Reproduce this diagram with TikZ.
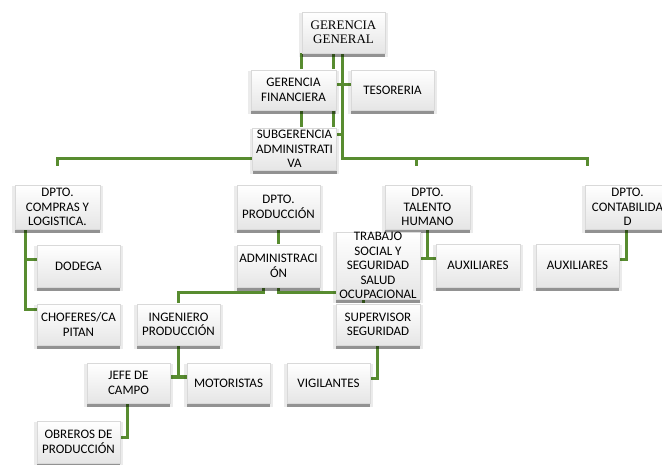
\documentclass[tikz,border=0pt]{standalone}
\usepackage{fontspec}
\setmainfont{Carlito}
\newfontfamily\gserif{Liberation Serif}
\usetikzlibrary{shadows,backgrounds}
\definecolor{lgreen}{RGB}{88,140,48}
\tikzset{
  box/.style={rectangle, draw=black!15, line width=0.4pt, top color=white, bottom color=black!10,
    minimum width=83pt, minimum height=42pt, inner sep=0pt, align=center,
    font=\fontsize{13}{14.5}\selectfont,
    general shadow={shadow xshift=0pt, shadow yshift=-4pt, fill=black, opacity=0.38},
    general shadow={shadow xshift=0pt, shadow yshift=-2pt, shadow scale=1.07, fill=black, opacity=0.08}},
  conn/.style={draw=lgreen, line width=3pt}
}
\begin{document}
\begin{tikzpicture}[x=1pt,y=-1pt]
\useasboundingbox (0,0) rectangle (662,465);
% nodes
\node[box, minimum width=83pt, minimum height=41pt, font=\gserif\fontsize{13}{14.3}\selectfont] (gg) at (343.5,32.5) {GERENCIA\\GENERAL};
\node[box, minimum width=85pt, minimum height=40pt] (gf) at (293.5,90) {GERENCIA\\FINANCIERA};
\node[box, minimum height=40pt] (tes) at (392.5,90) {TESORERIA};
\node[box, minimum width=84pt] (sub) at (294.5,149) {SUBGERENCIA\\ADMINISTRATI\\VA};
\node[box, minimum width=85pt, minimum height=44pt] (com) at (57.5,207) {DPTO.\\COMPRAS Y\\LOGISTICA.};
\node[box, minimum height=44pt] (prod) at (278.5,207) {DPTO.\\PRODUCCIÓN};
\node[box, minimum width=85pt, minimum height=44pt] (tal) at (427.5,207) {DPTO.\\TALENTO\\HUMANO};
\node[box, minimum width=85pt, minimum height=44pt] (cont) at (627.5,207) {DPTO.\\CONTABILIDA\\D};
\node[box] (adm) at (278.5,266) {ADMINISTRACI\\ÓN};
\node[box] (dod) at (78.5,266) {DODEGA};
\node[box, minimum width=84pt, minimum height=43pt] (trab) at (378,265.5) {TRABAJO\\SOCIAL Y\\SEGURIDAD\\SALUD\\OCUPACIONAL};
\node[box, minimum width=84pt, minimum height=43pt] (aux1) at (478,265.5) {AUXILIARES};
\node[box, minimum height=43pt] (aux2) at (577.5,265.5) {AUXILIARES};
\node[box, minimum height=41pt] (chof) at (78.5,324.5) {CHOFERES/CA\\PITAN};
\node[box, minimum height=41pt] (ing) at (178.5,324.5) {INGENIERO\\PRODUCCIÓN};
\node[box, minimum width=84pt, minimum height=41pt] (sup) at (378,324.5) {SUPERVISOR\\SEGURIDAD};
\node[box, minimum height=40pt] (jefe) at (128.5,383) {JEFE DE\\CAMPO};
\node[box, minimum height=40pt] (mot) at (228.5,383) {MOTORISTAS};
\node[box, minimum height=40pt] (vig) at (328.5,383) {VIGILANTES};
\node[box] (obr) at (78.5,442) {OBREROS DE\\PRODUCCIÓN};
% connectors
\begin{scope}[on background layer]
\coordinate (dTal) at (416,166);
\coordinate (dCont) at (587,166);
\coordinate (dCom) at (57,166);
\draw[conn] (gg.south -| 342,0) -- (342,159) -| (dCont);
\draw[conn] (dTal) -- (416,159);
\draw[conn] (gf.east) ++(0,-5) coordinate (gfe) -- (tes.west |- gfe);
\draw[conn] (sub.east) ++(0,-14) coordinate (sube) -- (342,135);
\draw[conn] (gg.south -| 301,0) -- (sub.north -| 301,0);
\draw[conn] (gg.south -| 333,0) -- (sub.north -| 333,0);
\draw[conn] (sub.west |- 0,159) -- (57,159) -- (dCom);
\draw[conn] (com.south -| 25,0) -- (25,310) -- (chof.west |- 0,310);
\draw[conn] (25,260) -- (dod.west |- 0,260);
\draw[conn] (prod.south) -- (adm.north);
\draw[conn] (adm.south -| 263,0) -- (263,293) -| (ing.north -| 178,0);
\draw[conn] (adm.south -| 278,0) -- (278,293) -| (sup.north -| 363,0);
\draw[conn] (tal.south -| 427,0) -- (427,259);
\draw[conn] (trab.east |- 0,259) -- (aux1.west |- 0,259);
\draw[conn] (cont.south -| 626,0) -- (626,260) -- (aux2.east |- 0,260);
\draw[conn] (ing.south -| 178,0) -- (178,377);
\draw[conn] (jefe.east |- 0,377) -- (mot.west |- 0,377);
\draw[conn] (sup.south -| 377,0) -- (377,378) -- (vig.east |- 0,378);
\draw[conn] (jefe.south -| 127,0) -- (127,437) -- (obr.east |- 0,437);
\end{scope}
\end{tikzpicture}
\end{document}
